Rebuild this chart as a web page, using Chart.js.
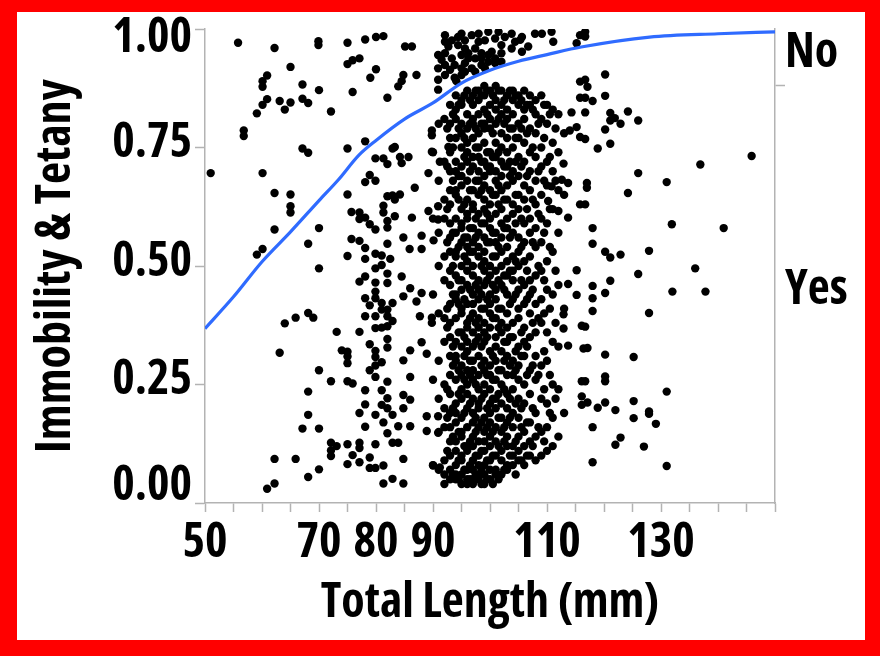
<!DOCTYPE html>
<html>
<head>
<meta charset="utf-8">
<script src="https://cdn.jsdelivr.net/npm/chart.js@4.4.1/dist/chart.umd.min.js"></script>
<style>
  html, body { margin: 0; padding: 0; }
  body { width: 880px; height: 656px; background: #ff0000; position: relative; overflow: hidden; }
  #paper { position: absolute; left: 17px; top: 12px; width: 848px; height: 628px; background: #fff; }
  #wrap { position: absolute; left: 0; top: 0; width: 880px; height: 656px; }
</style>
</head>
<body>
<div id="paper"></div>
<div id="wrap"><canvas id="myChart"></canvas></div>
<script>
// fitted probability curve
const curveX = [50, 55, 60, 65, 70, 73.4, 77, 80, 85, 90, 95, 100, 105, 110, 116, 128, 140, 150];
const curveY = [0.368, 0.435, 0.509, 0.572, 0.638, 0.682, 0.734, 0.765, 0.81, 0.844, 0.886, 0.913, 0.932, 0.946, 0.962, 0.983, 0.99, 0.994];

// x tick labels that are actually printed
const xLabels = [50, 70, 80, 90, 110, 130];

// response labels on the right axis
const responseLabels = ["No", "Yes"];
const responsePos = [0.938, 0.439];
const responseSplit = 0.8815;

// sparse points on the left (short fish)
const leftPoints = [
  [55.8, 0.971], [62.2, 0.960], [69.9, 0.974], [69.9, 0.966], [75.0, 0.971], [78.1, 0.978],
  [80.0, 0.983], [81.3, 0.985], [65.0, 0.920], [60.9, 0.902], [60.1, 0.890], [60.1, 0.878],
  [67.1, 0.883], [70.0, 0.871], [75.9, 0.867], [75.0, 0.926], [75.9, 0.934], [77.1, 0.938],
  [80.0, 0.915], [79.0, 0.897], [82.0, 0.855], [60.9, 0.852], [60.1, 0.840], [59.1, 0.822],
  [63.1, 0.848], [64.0, 0.830], [65.0, 0.845], [67.1, 0.853], [68.1, 0.844], [72.1, 0.826],
  [56.8, 0.786], [56.8, 0.774], [67.1, 0.748], [68.1, 0.739], [75.0, 0.748], [78.1, 0.763],
  [51.0, 0.696], [60.1, 0.696], [62.2, 0.654], [65.0, 0.651], [65.0, 0.626], [65.0, 0.613],
  [62.2, 0.577], [70.0, 0.580], [68.1, 0.547], [60.1, 0.536], [59.1, 0.524], [75.0, 0.651],
  [70.0, 0.495], [64.0, 0.379], [65.9, 0.391], [68.1, 0.401], [69.0, 0.391], [63.1, 0.317],
  [73.1, 0.361], [77.1, 0.361], [74.0, 0.322], [75.0, 0.319], [75.0, 0.309], [75.0, 0.295],
  [70.0, 0.280], [72.1, 0.257], [75.0, 0.257], [75.9, 0.252], [68.1, 0.235], [78.1, 0.238],
  [78.1, 0.208], [68.1, 0.186], [77.1, 0.190], [67.1, 0.157], [70.0, 0.157], [78.1, 0.161],
  [72.1, 0.127], [73.1, 0.120], [72.1, 0.111], [72.1, 0.099], [75.0, 0.124], [77.1, 0.127],
  [77.1, 0.116], [75.9, 0.101], [77.1, 0.086], [75.0, 0.082], [78.9, 0.096], [78.9, 0.074],
  [79.9, 0.074], [81.3, 0.079], [79.9, 0.124], [62.2, 0.093], [65.9, 0.093], [70.0, 0.071],
  [68.1, 0.055], [62.2, 0.041], [60.9, 0.030], [81.3, 0.041], [82.9, 0.051], [79.9, 0.186],
  [81.3, 0.170], [82.0, 0.147], [82.9, 0.127]
];

// the band around 78-83 mm
const stripPoints = [
  [78.1, 0.677], [78.9, 0.692], [79.9, 0.680], [79.9, 0.727], [81.3, 0.727], [82.0, 0.715],
  [82.0, 0.647], [82.9, 0.649], [81.3, 0.627], [81.3, 0.613], [75.7, 0.614], [77.1, 0.613],
  [77.1, 0.599], [78.1, 0.602], [78.9, 0.588], [79.9, 0.577], [82.0, 0.595], [82.0, 0.581],
  [75.7, 0.557], [77.1, 0.553], [78.1, 0.538], [82.0, 0.547], [75.0, 0.521], [78.1, 0.515],
  [79.9, 0.526], [81.0, 0.522], [82.5, 0.515], [82.9, 0.748],
  [77.1, 0.467], [78.1, 0.478], [79.9, 0.495], [81.0, 0.502], [82.0, 0.484], [79.9, 0.465],
  [79.9, 0.446], [82.0, 0.464], [78.1, 0.432], [78.9, 0.417], [79.9, 0.432], [81.0, 0.422],
  [82.0, 0.408], [82.9, 0.422], [78.1, 0.394], [79.9, 0.394], [81.0, 0.408], [82.0, 0.394],
  [82.9, 0.384], [79.9, 0.369], [81.0, 0.370], [82.0, 0.373], [78.9, 0.335], [79.9, 0.321],
  [82.0, 0.346], [82.0, 0.328], [79.9, 0.308], [81.0, 0.297], [79.9, 0.290], [78.9, 0.280],
  [79.9, 0.266], [82.0, 0.256], [81.0, 0.238], [82.0, 0.221], [81.0, 0.207], [82.0, 0.200],
  [82.9, 0.186]
];

// points between the band and the main cluster
const midPoints = [
  [83.3, 0.751], [84.2, 0.730], [85.7, 0.730], [84.5, 0.717], [89.8, 0.786], [89.8, 0.776],
  [89.8, 0.741], [89.2, 0.696], [86.8, 0.665], [84.2, 0.651], [83.3, 0.640], [90.9, 0.626],
  [89.2, 0.616], [86.3, 0.602], [83.3, 0.605], [84.8, 0.560], [88.0, 0.564], [88.0, 0.536],
  [85.9, 0.536], [90.1, 0.554], [90.9, 0.598], [91.2, 0.720], [92.7, 0.751],
  [84.5, 0.478], [84.8, 0.436], [86.0, 0.453], [87.1, 0.425], [88.0, 0.443], [87.7, 0.394],
  [89.8, 0.391], [89.8, 0.380], [88.0, 0.339], [86.0, 0.322], [84.8, 0.301], [88.9, 0.315],
  [86.0, 0.266], [84.8, 0.228], [86.0, 0.218], [84.8, 0.200], [88.9, 0.183], [90.9, 0.183],
  [88.9, 0.152], [90.9, 0.148], [86.0, 0.162], [83.9, 0.162], [84.8, 0.093], [84.8, 0.041],
  [83.9, 0.127], [90.0, 0.079], [91.2, 0.075]
];

// cluster above the curve (No)
const topPoints = [
  [92.1, 0.987], [92.1, 0.973], [93.3, 0.976], [95.0, 0.990], [96.8, 0.987], [98.0, 0.990],
  [99.1, 0.976], [100.9, 0.980], [102.6, 0.983], [103.8, 0.990], [105.6, 0.983], [107.9, 0.990],
  [109.1, 0.990], [110.8, 0.994], [106.7, 0.963], [105.6, 0.952], [90.9, 0.945], [92.1, 0.949],
  [93.3, 0.938], [95.0, 0.945], [96.2, 0.949], [97.4, 0.959], [98.5, 0.949], [100.3, 0.952],
  [102.0, 0.949], [92.1, 0.924], [93.8, 0.924], [95.6, 0.928], [96.8, 0.917], [98.5, 0.924],
  [99.7, 0.931], [100.9, 0.928], [102.0, 0.931], [90.9, 0.917], [90.9, 0.893], [92.1, 0.903],
  [93.8, 0.897], [95.0, 0.903], [97.4, 0.910], [99.1, 0.917], [90.9, 0.872], [94.1, 0.890],
  [95.6, 0.910], [85.1, 0.963], [86.3, 0.963], [84.8, 0.903], [87.1, 0.903], [83.9, 0.879],
  [115.2, 0.970], [115.8, 0.987], [92.7, 0.963], [94.4, 0.966], [95.6, 0.959], [97.4, 0.938],
  [99.7, 0.945], [100.9, 0.938], [103.8, 0.959], [104.4, 0.973], [102.0, 0.966], [94.4, 0.983],
  [99.7, 0.994], [101.5, 0.994], [98.0, 0.973], [95.6, 0.976], [91.5, 0.935], [93.0, 0.914],
  [95.0, 0.917], [96.2, 0.938], [98.5, 0.938], [111.1, 0.973], [105.3, 0.977], [116.7, 0.994],
  [116.7, 0.984], [84.5, 0.890]
];

// main cluster, one column per mm
const coreLengths = [90, 91, 92, 93, 94, 95, 96, 97, 98, 99, 100, 101, 102, 103, 104, 105, 106, 107, 108, 109, 110, 111, 112, 113];
const coreY = [
  [0.74, 0.60, 0.44, 0.26, 0.08],
  [0.80, 0.68, 0.57, 0.50, 0.40, 0.30, 0.22, 0.15, 0.07],
  [0.81, 0.72, 0.64, 0.60, 0.52, 0.47, 0.39, 0.34, 0.25, 0.20, 0.16, 0.09, 0.06, 0.04],
  [0.84, 0.80, 0.77, 0.74, 0.70, 0.66, 0.63, 0.59, 0.56, 0.53, 0.49, 0.46, 0.42, 0.38, 0.35, 0.31, 0.27, 0.23, 0.19, 0.16, 0.13, 0.10, 0.07, 0.05],
  [0.86, 0.83, 0.81, 0.77, 0.72, 0.70, 0.66, 0.65, 0.60, 0.57, 0.53, 0.52, 0.48, 0.44, 0.43, 0.39, 0.34, 0.31, 0.30, 0.26, 0.21, 0.19, 0.17, 0.13, 0.11, 0.08, 0.06, 0.05],
  [0.85, 0.84, 0.80, 0.78, 0.75, 0.71, 0.69, 0.67, 0.62, 0.59, 0.58, 0.55, 0.50, 0.47, 0.45, 0.41, 0.40, 0.36, 0.33, 0.29, 0.27, 0.24, 0.22, 0.18, 0.15, 0.14, 0.10, 0.09, 0.06, 0.04],
  [0.87, 0.82, 0.79, 0.76, 0.74, 0.72, 0.68, 0.64, 0.61, 0.60, 0.56, 0.54, 0.51, 0.49, 0.46, 0.42, 0.38, 0.37, 0.34, 0.32, 0.28, 0.25, 0.23, 0.20, 0.16, 0.12, 0.11, 0.07, 0.05, 0.04],
  [0.86, 0.84, 0.81, 0.80, 0.77, 0.73, 0.71, 0.66, 0.63, 0.62, 0.58, 0.55, 0.53, 0.50, 0.48, 0.44, 0.42, 0.40, 0.36, 0.33, 0.30, 0.28, 0.26, 0.22, 0.19, 0.17, 0.14, 0.12, 0.09, 0.07, 0.05, 0.04],
  [0.87, 0.85, 0.82, 0.78, 0.75, 0.73, 0.70, 0.68, 0.65, 0.61, 0.57, 0.54, 0.52, 0.47, 0.45, 0.43, 0.39, 0.37, 0.35, 0.31, 0.27, 0.24, 0.21, 0.20, 0.16, 0.13, 0.10, 0.08, 0.06, 0.05],
  [0.88, 0.86, 0.83, 0.80, 0.79, 0.76, 0.72, 0.69, 0.67, 0.64, 0.62, 0.59, 0.56, 0.53, 0.51, 0.49, 0.46, 0.41, 0.38, 0.36, 0.34, 0.30, 0.28, 0.25, 0.23, 0.18, 0.15, 0.13, 0.11, 0.08, 0.06, 0.04],
  [0.87, 0.84, 0.81, 0.79, 0.74, 0.71, 0.70, 0.66, 0.63, 0.60, 0.58, 0.55, 0.50, 0.48, 0.44, 0.42, 0.40, 0.37, 0.32, 0.29, 0.27, 0.24, 0.21, 0.19, 0.17, 0.14, 0.12, 0.09, 0.07, 0.05],
  [0.88, 0.85, 0.83, 0.80, 0.76, 0.73, 0.70, 0.68, 0.65, 0.61, 0.57, 0.55, 0.52, 0.49, 0.45, 0.43, 0.39, 0.35, 0.33, 0.30, 0.26, 0.22, 0.20, 0.16, 0.13, 0.10, 0.07, 0.06],
  [0.87, 0.84, 0.82, 0.78, 0.75, 0.72, 0.69, 0.66, 0.62, 0.59, 0.56, 0.53, 0.50, 0.46, 0.41, 0.38, 0.36, 0.32, 0.28, 0.25, 0.21, 0.18, 0.15, 0.11, 0.09, 0.06],
  [0.86, 0.83, 0.81, 0.77, 0.74, 0.71, 0.67, 0.64, 0.60, 0.58, 0.54, 0.51, 0.48, 0.44, 0.40, 0.37, 0.34, 0.31, 0.27, 0.23, 0.20, 0.17, 0.14, 0.12, 0.08, 0.07],
  [0.87, 0.85, 0.82, 0.79, 0.75, 0.70, 0.68, 0.63, 0.61, 0.57, 0.52, 0.49, 0.47, 0.43, 0.38, 0.35, 0.30, 0.27, 0.24, 0.19, 0.16, 0.12, 0.10, 0.08],
  [0.86, 0.84, 0.80, 0.77, 0.73, 0.69, 0.65, 0.62, 0.56, 0.53, 0.50, 0.45, 0.41, 0.39, 0.33, 0.29, 0.26, 0.22, 0.18, 0.14, 0.11, 0.09],
  [0.87, 0.83, 0.81, 0.76, 0.72, 0.67, 0.64, 0.59, 0.55, 0.51, 0.46, 0.42, 0.37, 0.34, 0.31, 0.25, 0.21, 0.15, 0.12, 0.08],
  [0.86, 0.84, 0.79, 0.74, 0.70, 0.66, 0.60, 0.57, 0.52, 0.47, 0.44, 0.40, 0.35, 0.28, 0.23, 0.17, 0.13, 0.10],
  [0.85, 0.82, 0.78, 0.73, 0.68, 0.63, 0.58, 0.54, 0.48, 0.42, 0.36, 0.31, 0.26, 0.19, 0.14, 0.09],
  [0.86, 0.81, 0.75, 0.71, 0.65, 0.60, 0.55, 0.49, 0.43, 0.38, 0.29, 0.22, 0.15, 0.10],
  [0.84, 0.80, 0.72, 0.67, 0.59, 0.51, 0.45, 0.36, 0.30, 0.21, 0.16, 0.11],
  [0.83, 0.76, 0.70, 0.62, 0.53, 0.44, 0.34, 0.25, 0.18, 0.12],
  [0.82, 0.74, 0.66, 0.57, 0.46, 0.33, 0.24, 0.14],
  [0.78, 0.65, 0.41, 0.19]
];

// extra points of the main cluster that sit between the whole-mm columns
const coreHalfLengths = [92.5, 93.5, 94.5, 95.5, 96.5, 97.5, 98.5, 99.5, 100.5, 101.5, 102.5, 103.5, 104.5, 105.5, 106.5, 107.5, 108.5, 109.5, 110.5, 111.5];
const coreHalfY = [
  [0.79, 0.71, 0.62, 0.55, 0.41, 0.37, 0.24, 0.18, 0.11],
  [0.82, 0.75, 0.68, 0.57, 0.50, 0.44, 0.33, 0.29, 0.20, 0.14, 0.06],
  [0.84, 0.79, 0.69, 0.64, 0.54, 0.47, 0.42, 0.36, 0.28, 0.23, 0.15, 0.09, 0.05],
  [0.86, 0.77, 0.73, 0.63, 0.56, 0.52, 0.43, 0.35, 0.31, 0.26, 0.19, 0.12, 0.07],
  [0.85, 0.80, 0.70, 0.66, 0.58, 0.53, 0.45, 0.39, 0.30, 0.27, 0.21, 0.13, 0.08, 0.05],
  [0.87, 0.79, 0.75, 0.68, 0.60, 0.56, 0.46, 0.38, 0.34, 0.25, 0.18, 0.15, 0.10, 0.06],
  [0.86, 0.80, 0.72, 0.66, 0.59, 0.50, 0.44, 0.41, 0.33, 0.29, 0.22, 0.17, 0.11, 0.07, 0.04],
  [0.87, 0.82, 0.74, 0.71, 0.61, 0.55, 0.47, 0.43, 0.35, 0.27, 0.20, 0.16, 0.09, 0.05],
  [0.86, 0.78, 0.73, 0.65, 0.57, 0.52, 0.46, 0.39, 0.31, 0.26, 0.22, 0.15, 0.10, 0.04],
  [0.87, 0.81, 0.74, 0.67, 0.63, 0.54, 0.47, 0.41, 0.37, 0.28, 0.23, 0.18, 0.12, 0.05],
  [0.85, 0.80, 0.71, 0.64, 0.58, 0.48, 0.45, 0.34, 0.30, 0.24, 0.16, 0.13, 0.07],
  [0.87, 0.79, 0.72, 0.69, 0.56, 0.49, 0.42, 0.35, 0.29, 0.22, 0.18, 0.10],
  [0.86, 0.77, 0.72, 0.65, 0.59, 0.51, 0.44, 0.32, 0.28, 0.21, 0.13, 0.06],
  [0.85, 0.79, 0.71, 0.60, 0.54, 0.47, 0.36, 0.31, 0.20, 0.16, 0.09],
  [0.84, 0.78, 0.69, 0.62, 0.49, 0.43, 0.33, 0.27, 0.17, 0.10],
  [0.83, 0.75, 0.64, 0.55, 0.45, 0.38, 0.29, 0.20, 0.12],
  [0.80, 0.70, 0.61, 0.50, 0.39, 0.27, 0.16],
  [0.84, 0.77, 0.68, 0.57, 0.47, 0.40, 0.32, 0.24, 0.13],
  [0.82, 0.73, 0.62, 0.54, 0.41, 0.27, 0.19],
  [0.79, 0.68, 0.49, 0.38, 0.22]
];

// sparse points on the right (long fish)
const rightPoints = [
  [120.2, 0.904], [117.1, 0.878], [116.7, 0.893], [116.7, 0.855], [118.0, 0.848], [120.2, 0.859],
  [116.7, 0.824], [121.1, 0.823], [121.1, 0.807], [121.9, 0.812], [122.9, 0.800], [124.2, 0.826],
  [126.0, 0.807], [120.2, 0.788], [116.7, 0.768], [118.9, 0.748], [121.1, 0.758], [145.9, 0.732],
  [136.9, 0.714], [126.0, 0.696], [117.0, 0.675], [117.0, 0.665], [131.0, 0.677], [124.2, 0.654],
  [116.7, 0.630], [118.0, 0.580], [131.9, 0.588], [141.0, 0.580], [118.0, 0.547], [120.2, 0.530],
  [121.1, 0.518], [122.9, 0.524], [127.9, 0.532],
  [136.0, 0.495], [126.0, 0.483], [121.1, 0.469], [118.0, 0.458], [118.0, 0.432], [118.0, 0.405],
  [120.2, 0.443], [132.0, 0.446], [137.8, 0.446], [127.9, 0.401], [116.7, 0.372], [117.1, 0.327],
  [120.2, 0.313], [125.2, 0.308], [120.2, 0.267], [120.2, 0.257], [116.7, 0.257], [131.0, 0.235],
  [117.1, 0.212], [118.9, 0.201], [120.2, 0.212], [122.0, 0.196], [125.2, 0.215], [125.2, 0.179],
  [127.9, 0.193], [127.9, 0.188], [129.1, 0.167], [118.0, 0.160], [122.9, 0.138], [122.0, 0.123],
  [127.0, 0.119], [118.0, 0.086], [131.0, 0.078],
  [115.2, 0.491], [113.7, 0.462], [115.2, 0.439], [112.9, 0.398], [112.9, 0.368], [113.7, 0.332],
  [116.1, 0.374], [116.4, 0.326], [116.1, 0.257], [116.1, 0.225], [116.1, 0.207],
  [115.8, 0.889], [115.8, 0.855], [114.3, 0.824], [114.0, 0.786], [115.2, 0.793], [115.8, 0.772],
  [113.7, 0.675], [112.6, 0.682], [115.8, 0.630], [113.7, 0.602], [112.0, 0.616], [112.9, 0.716],
  [110.2, 0.637], [110.8, 0.668]
];

const pointData = [];
[leftPoints, stripPoints, midPoints, topPoints, rightPoints].forEach((group) => {
  group.forEach((p) => pointData.push({ x: p[0], y: p[1] }));
});
coreLengths.forEach((len, i) => {
  coreY[i].forEach((y) => pointData.push({ x: len, y: y }));
});
coreHalfLengths.forEach((len, i) => {
  coreHalfY[i].forEach((y) => pointData.push({ x: len, y: y }));
});

const curveData = curveX.map((x, i) => ({ x: x, y: curveY[i] }));

// The original uses a narrow bold face; pick the narrowest installed one
function pickFont() {
  const c = document.createElement("canvas").getContext("2d");
  const candidates = [
    { weight: "bold", family: "'Liberation Sans Narrow'" },
    { weight: "bold", family: "'Arial Narrow'" },
    { weight: "bold condensed", family: "'Open Sans'" },
    { weight: "bold condensed", family: "'Noto Sans'" },
    { weight: "bold condensed", family: "'DejaVu Sans'" },
    { weight: "bold", family: "'Liberation Sans'" },
  ];
  const target = 337; // width of the x title in the reference
  let best = candidates[candidates.length - 1];
  let bestScale = 0.82;
  let bestErr = Infinity;
  candidates.forEach((cand) => {
    c.font = "normal " + cand.weight + " 46px " + cand.family;
    const w = c.measureText("Total Length (mm)").width;
    const err = Math.abs(Math.log(target / w));
    if (err < bestErr) {
      bestErr = err;
      best = cand;
      bestScale = target / w;
    }
  });
  const size = Math.round(46 * Math.min(1.05, bestScale));
  return { family: best.family + ", sans-serif", weight: best.weight, size: size };
}

const F = pickFont();
const bigFont = { family: F.family, size: F.size, weight: F.weight };
const tickFont = { family: F.family, size: F.size, weight: F.weight, lineHeight: "26px" };
const AXIS_GREY = "#b3b3b3";

const ctx = document.getElementById("myChart").getContext("2d");

new Chart(ctx, {
  type: "scatter",
  data: {
    datasets: [
      {
        type: "line",
        label: "Fit",
        data: curveData,
        borderColor: "#2f6bff",
        borderWidth: 3.2,
        pointRadius: 0,
        cubicInterpolationMode: "monotone",
        fill: false,
        order: 0,
      },
      {
        label: "Fish",
        data: pointData,
        backgroundColor: "#000000",
        borderWidth: 0,
        pointRadius: 4.2,
        pointHoverRadius: 4.2,
        order: 1,
      },
    ],
  },
  options: {
    responsive: true,
    maintainAspectRatio: false,
    animation: false,
    events: [],
    layout: { padding: { top: 22, left: 0, right: 0, bottom: 0 } },
    plugins: {
      legend: { display: false },
      tooltip: { enabled: false },
    },
    scales: {
      x: {
        type: "linear",
        min: 50,
        max: 150,
        afterFit: (scale) => { scale.height = 153; },
        afterBuildTicks: (scale) => {
          const t = [];
          for (let v = 50; v <= 150; v += 5) t.push({ value: v });
          scale.ticks = t;
        },
        border: { color: AXIS_GREY, width: 1.5 },
        grid: { drawOnChartArea: false, color: AXIS_GREY, tickLength: 9, tickWidth: 1.5 },
        ticks: {
          autoSkip: false,
          maxRotation: 0,
          padding: 3,
          color: "#000",
          font: bigFont,
          callback: (v) => (xLabels.includes(v) ? String(v) : ""),
        },
        title: {
          display: true,
          text: "Total Length (mm)",
          color: "#000",
          padding: { top: 0, bottom: 24 },
          font: bigFont,
        },
      },
      y: {
        type: "linear",
        position: "left",
        min: 0,
        max: 1,
        afterFit: (scale) => { scale.width = 205; },
        border: { color: AXIS_GREY, width: 1.5 },
        grid: { drawOnChartArea: false, color: AXIS_GREY, tickLength: 10, tickWidth: 1.5 },
        ticks: {
          stepSize: 0.25,
          padding: 3,
          labelOffset: -4,
          color: "#000",
          font: tickFont,
          // the end labels sit inside the axis range, as in the original
          callback: (v) => {
            if (v === 1) return ["", "1.00"];
            if (v === 0) return ["0.00", ""];
            return v.toFixed(2);
          },
        },
        title: {
          display: true,
          text: "Immobility & Tetany",
          color: "#000",
          padding: { top: 28, bottom: 0 },
          font: bigFont,
        },
      },
      y2: {
        type: "linear",
        position: "right",
        min: 0,
        max: 1,
        afterFit: (scale) => { scale.width = 105; },
        afterBuildTicks: (scale) => {
          scale.ticks = [{ value: responsePos[1] }, { value: responseSplit }, { value: responsePos[0] }];
        },
        border: { color: AXIS_GREY, width: 1.5 },
        grid: {
          drawOnChartArea: false,
          tickLength: 10,
          tickWidth: 1.5,
          tickColor: (c) => (c.tick && c.tick.value === responseSplit ? AXIS_GREY : "rgba(0,0,0,0)"),
        },
        ticks: {
          padding: 0,
          labelOffset: -5,
          color: "#000",
          font: bigFont,
          callback: (v) => {
            if (v === responsePos[0]) return responseLabels[0];
            if (v === responsePos[1]) return responseLabels[1];
            return "";
          },
        },
      },
    },
  },
});
</script>
</body>
</html>
